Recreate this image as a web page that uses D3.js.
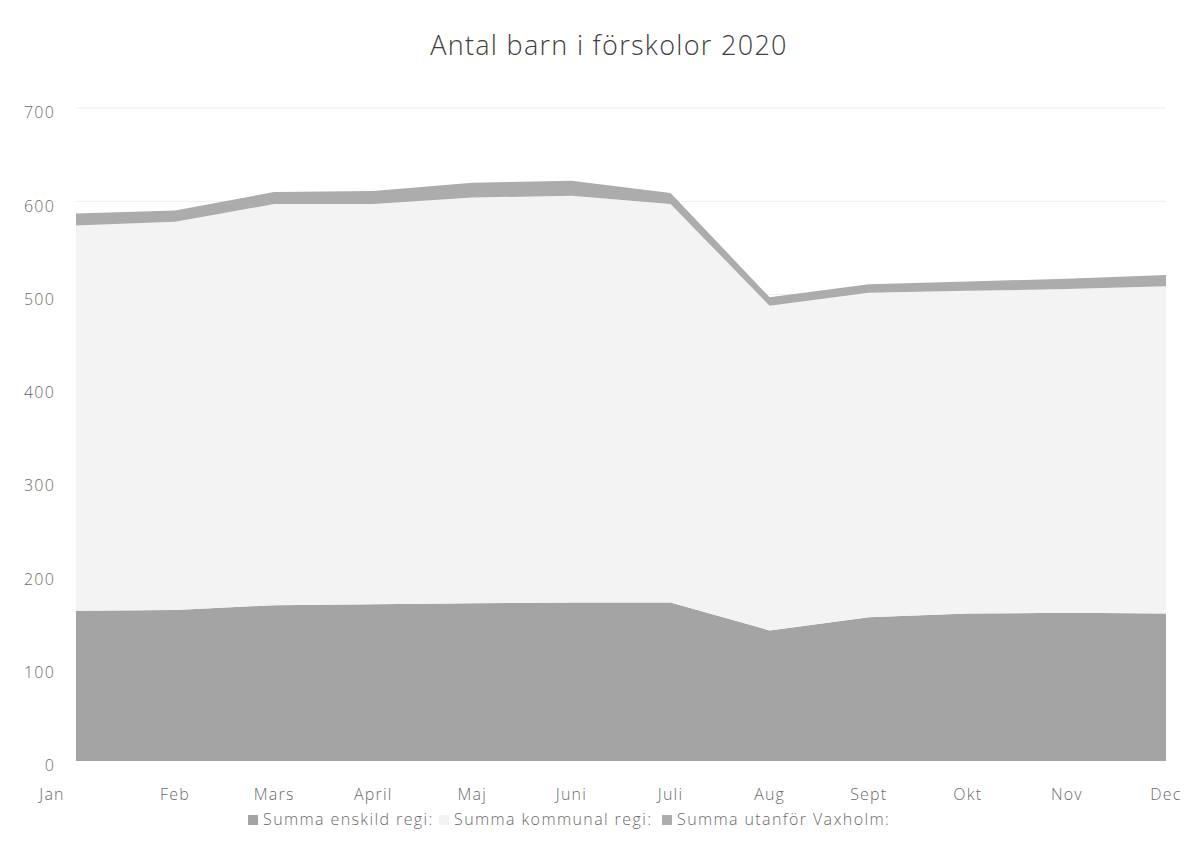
<!DOCTYPE html>
<html>
<head>
<meta charset="utf-8">
<script src="https://cdn.jsdelivr.net/npm/d3@7"></script>
<style>
  body { margin: 0; background: #fff; }
  text { font-family: "Open Sans", "Noto Sans", sans-serif; font-weight: 300; }
</style>
</head>
<body>
<div id="chart"></div>
<script>
const [svgW, svgH] = [1194, 856];
const margin = { top: 108, right: 28, bottom: 95, left: 76 };

// data
const months = ['Jan', 'Feb', 'Mars', 'April', 'Maj', 'Juni', 'Juli', 'Aug', 'Sept', 'Okt', 'Nov', 'Dec'];
const enskild = [161, 162, 167, 168, 169, 170, 170, 140, 154, 158, 159, 158];
const kommunal = [413, 416, 430, 429, 435, 436, 427, 348, 348, 346, 347, 351];
const utanfor = [13, 12, 13, 14, 16, 16, 12, 9, 9, 10, 11, 12];
const yTicks = [0, 100, 200, 300, 400, 500, 600, 700];

const seriesNames = ['Summa enskild regi:', 'Summa kommunal regi:', 'Summa utanför Vaxholm:'];
const seriesColors = ['#a4a4a4', '#f3f3f3', '#acacac'];

const rows = months.map((m, i) => ({ month: m, s0: enskild[i], s1: kommunal[i], s2: utanfor[i] }));
const stacked = d3.stack().keys(['s0', 's1', 's2'])(rows);

const svg = d3.select('#chart').append('svg').attr('width', svgW).attr('height', svgH);

const x = d3.scalePoint().domain(months).range([margin.left, svgW - margin.right]);
const y = d3.scaleLinear().domain([0, 700]).range([svgH - margin.bottom, margin.top]);

// title
svg.append('text')
    .attr('x', svgW / 2 + 12).attr('y', 48)
    .attr('text-anchor', 'middle').attr('dominant-baseline', 'middle')
    .attr('font-size', 27).attr('letter-spacing', 1.3).attr('fill', '#404040')
    .text('Antal barn i förskolor 2020');

// gridlines
svg.append('g').selectAll('line').data(yTicks.slice(1)).join('line')
    .attr('x1', margin.left).attr('x2', svgW - margin.right)
    .attr('y1', d => y(d)).attr('y2', d => y(d))
    .attr('stroke', '#eeeeee').attr('stroke-width', 1);

// areas
const area = d3.area()
    .x(d => x(d.data.month))
    .y0(d => y(d[0]))
    .y1(d => y(d[1]));

svg.append('g').selectAll('path').data(stacked).join('path')
    .attr('d', area)
    .attr('fill', (d, i) => seriesColors[i]);

// y axis labels
svg.append('g').selectAll('text').data(yTicks).join('text')
    .attr('x', 55).attr('y', d => y(d) + 6)
    .attr('text-anchor', 'end').attr('dominant-baseline', 'middle')
    .attr('font-size', 16).attr('letter-spacing', 1.2).attr('fill', '#6a6a6a')
    .text(d => d);

// x axis labels
svg.append('g').selectAll('text').data(months).join('text')
    .attr('x', (d, i) => x(d) - (i === 0 ? 24 : 0)).attr('y', 796)
    .attr('text-anchor', 'middle').attr('dominant-baseline', 'middle')
    .attr('font-size', 16).attr('letter-spacing', 1.2).attr('fill', '#6a6a6a')
    .text(d => d);

// legend
const legendX = [248, 439, 662];
const legend = svg.append('g').selectAll('g').data(seriesNames).join('g')
    .attr('transform', (d, i) => `translate(${legendX[i]},820)`);
legend.append('rect')
    .attr('x', 0).attr('y', -5).attr('width', 10).attr('height', 10)
    .attr('fill', (d, i) => seriesColors[i]);
legend.append('text')
    .attr('x', 15).attr('y', 1)
    .attr('dominant-baseline', 'middle')
    .attr('font-size', 16).attr('letter-spacing', 1.4).attr('fill', '#6a6a6a')
    .text(d => d);
</script>
</body>
</html>
